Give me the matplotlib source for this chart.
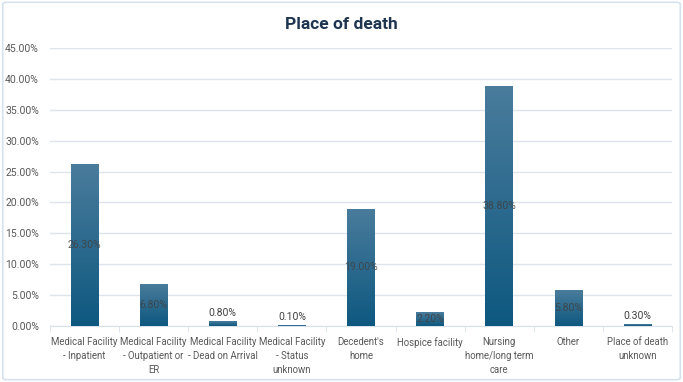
import matplotlib
matplotlib.use("Agg")
import matplotlib.pyplot as plt
import numpy as np
from matplotlib.patches import FancyBboxPatch
from matplotlib.colors import LinearSegmentedColormap

categories = ["Medical Facility\n- Inpatient", "Medical Facility\n- Outpatient or\nER",
              "Medical Facility\n- Dead on Arrival", "Medical Facility\n- Status\nunknown",
              "Decedent's\nhome", "Hospice facility", "Nursing\nhome/long term\ncare",
              "Other", "Place of death\nunknown"]
values = [26.30, 6.80, 0.80, 0.10, 19.00, 2.20, 38.80, 5.80, 0.30]
yticks = [0, 5, 10, 15, 20, 25, 30, 35, 40, 45]

plt.rcParams['font.family'] = ['Roboto', 'DejaVu Sans']

fig = plt.figure(figsize=(6.83, 3.82), dpi=100)
ax = fig.add_axes([50/683, 56/382, 622/683, 278/382])

cmap = LinearSegmentedColormap.from_list("g", ["#0e5880", "#4a7c9c"])
x = np.arange(len(values)) + 0.5
bars = ax.bar(x, values, width=0.4, color="#1a6086", zorder=2)
grad = np.linspace(0, 1, 256).reshape(-1, 1)
for b, v in zip(bars, values):
    x0 = b.get_x(); w = b.get_width()
    im = ax.imshow(grad, extent=[x0, x0 + w, 0, v], origin="lower", aspect="auto",
                   cmap=cmap, zorder=3)
    im.set_clip_path(b)

for xi, v in zip(x, values):
    if v >= 2:
        ax.text(xi, v/2, f"{v:.2f}%", ha="center", va="center", fontsize=7.5,
                color="#404040", alpha=0.85, zorder=4)
    else:
        ax.text(xi, v + 0.5, f"{v:.2f}%", ha="center", va="bottom", fontsize=7.5,
                color="#404040", zorder=4)

ax.set_xlim(0, len(values))
ax.set_ylim(0, 45)
ax.set_yticks(yticks)
ax.set_yticklabels([f"{t:.2f}%" for t in yticks])
ax.set_xticks(x)
ax.set_xticklabels(categories, linespacing=1.5)
ax.set_xticks(np.arange(len(values) + 1), minor=True)
ax.tick_params(axis="x", which="major", length=0, pad=8, labelsize=6.9, colors="#595959")
ax.tick_params(axis="x", which="minor", length=4, color="#d9e1ea")
ax.tick_params(axis="y", length=0, pad=8, labelsize=7.5, colors="#595959")
ax.grid(axis="y", color="#dde4ec", linewidth=1, zorder=0)
ax.set_axisbelow(True)
for s in ["top", "right", "left"]:
    ax.spines[s].set_visible(False)
ax.spines["bottom"].set_color("#d9e1ea")
ax.set_facecolor("none")

fig.text(0.5, 0.937, "Place of death", ha="center", va="center", fontsize=12.5,
         fontweight="bold", color="#1f3550", family=["Roboto", "DejaVu Sans"])

border = FancyBboxPatch((0.004, 0.006), 0.992, 0.988, boxstyle="round,pad=0,rounding_size=0.005",
                        transform=fig.transFigure, fill=False, edgecolor="#d6e3ef", linewidth=1.2)
fig.patches.append(border)

fig.savefig("out.png", dpi=100)
